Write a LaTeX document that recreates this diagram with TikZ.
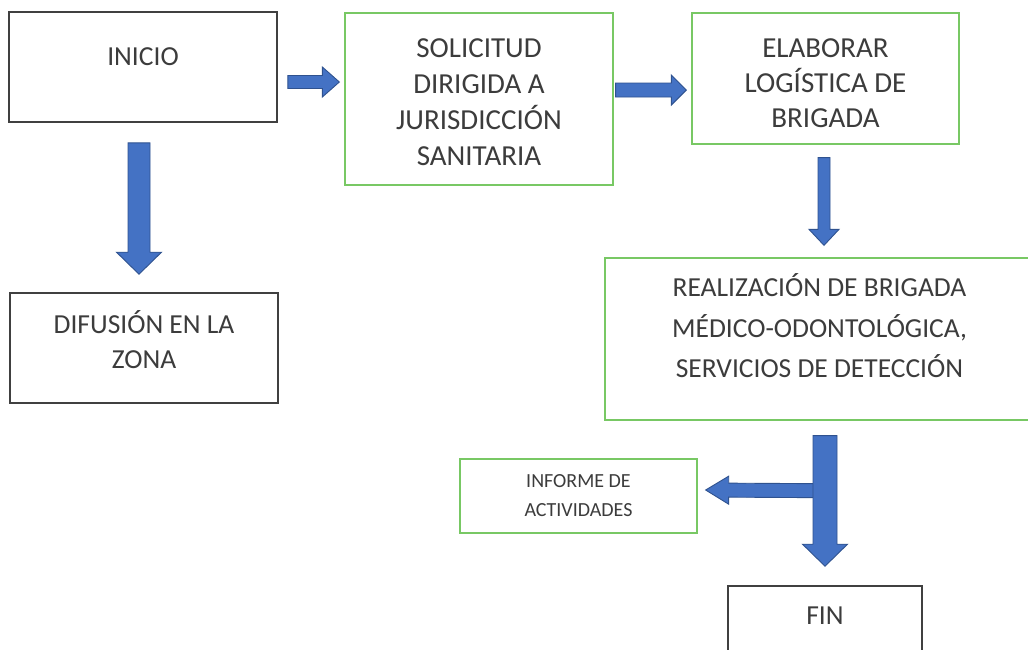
\documentclass[tikz,border=0pt]{standalone}
\usepackage{fontspec}
\setmainfont{Carlito}
\usetikzlibrary{calc}
\definecolor{txtgray}{HTML}{3C3C3C}
\definecolor{boxgray}{HTML}{404040}
\definecolor{boxgreen}{RGB}{120,200,100}
\definecolor{arrowblue}{HTML}{4472C4}
\definecolor{arrowdark}{HTML}{2F528F}
\tikzset{
  box/.style={draw, rectangle, inner sep=0pt, align=center, text=txtgray,
    font=\fontsize{27.5}{36}\selectfont},
  greybox/.style={box, draw=boxgray, line width=1.6pt},
  greenbox/.style={box, draw=boxgreen, line width=1.3pt},
  arrowbody/.style={fill=arrowblue, draw=arrowdark, line width=0.9pt, line join=miter},
}
\newcommand\blockarrow[5]{% from, to, shaft half width, head half width, head length
  \filldraw[arrowbody] let \p1=(#1), \p2=(#2),
    \n1={atan2(\y2-\y1,\x2-\x1)}, \n2={veclen(\x2-\x1,\y2-\y1)} in
    ([shift={(\p1)},rotate=\n1]0,-#3) --
    ([shift={(\p1)},rotate=\n1]\n2-#5,-#3) --
    ([shift={(\p1)},rotate=\n1]\n2-#5,-#4) --
    ([shift={(\p1)},rotate=\n1]\n2,0) --
    ([shift={(\p1)},rotate=\n1]\n2-#5,#4) --
    ([shift={(\p1)},rotate=\n1]\n2-#5,#3) --
    ([shift={(\p1)},rotate=\n1]0,#3) -- cycle;}
\begin{document}
\begin{tikzpicture}[x=1pt,y=1pt]
\useasboundingbox[fill=white] (0,0) rectangle (1028,-649);
\clip (0,0) rectangle (1028,-649);

\node[greybox, minimum width=268, minimum height=110, text depth=20pt] (inicio) at (143,-67) {INICIO};
\node[greenbox, minimum width=268, minimum height=172, text height=132pt, text depth=0pt,
  font=\fontsize{29}{35.8}\selectfont] (solicitud) at (479,-99)
  {SOLICITUD\\DIRIGIDA A\\JURISDICCIÓN\\SANITARIA};
\node[greenbox, minimum width=267, minimum height=131, text height=97pt, text depth=0pt,
  font=\fontsize{29}{35}\selectfont] (elaborar) at (825.5,-78.5)
  {ELABORAR\\LOGÍSTICA DE\\BRIGADA};
\node[greybox, minimum width=268, minimum height=110, text depth=17pt,
  font=\fontsize{27.5}{35}\selectfont] (difusion) at (144,-348)
  {DIFUSIÓN EN LA\\ZONA};
\node[greenbox, minimum width=429, minimum height=162, text depth=26pt,
  font=\fontsize{27.5}{40.5}\selectfont] (realiz) at (819.5,-339)
  {REALIZACIÓN DE BRIGADA\\MÉDICO-ODONTOLÓGICA,\\SERVICIOS DE DETECCIÓN};
\node[greenbox, minimum width=237, minimum height=74,
  font=\fontsize{20}{29}\selectfont] (informe) at (578.5,-496)
  {INFORME DE\\ACTIVIDADES};
\node[greybox, minimum width=194, minimum height=110, text depth=50pt] (fin) at (825,-641) {FIN};

% arrow end points
\coordinate (a1s) at ($(inicio.east)+(10,-15)$);
\coordinate (a1e) at ($(solicitud.west)+(-5,17)$);
\coordinate (a2s) at ($(solicitud.east)+(2,9)$);
\coordinate (a2e) at ($(elaborar.west)+(-5,-11.5)$);
\coordinate (a3s) at ($(elaborar.south)+(-1.5,-13)$);
\coordinate (a3e) at ($(realiz.north)+(4.5,12)$);
\coordinate (a4s) at ($(inicio.south)+(-4,-20)$);
\coordinate (a4e) at ($(difusion.north)+(-5,18)$);
\coordinate (a5s) at ($(realiz.south)+(5.5,-15)$);
\coordinate (a5e) at ($(fin.north)+(0,19)$);
\coordinate (a6s) at ($(realiz.south)+(-4,-70)$);
\coordinate (a6e) at ($(informe.east)+(8,6)$);

\blockarrow{a1s}{a1e}{6.5}{15}{17}
\blockarrow{a2s}{a2e}{7}{15}{15}
\blockarrow{a3s}{a3e}{6}{15}{16}
\blockarrow{a4s}{a4e}{11}{22.5}{22}
\blockarrow{a6s}{a6e}{7}{14}{23}
\blockarrow{a5s}{a5e}{12}{22.5}{22}
\end{tikzpicture}
\end{document}
